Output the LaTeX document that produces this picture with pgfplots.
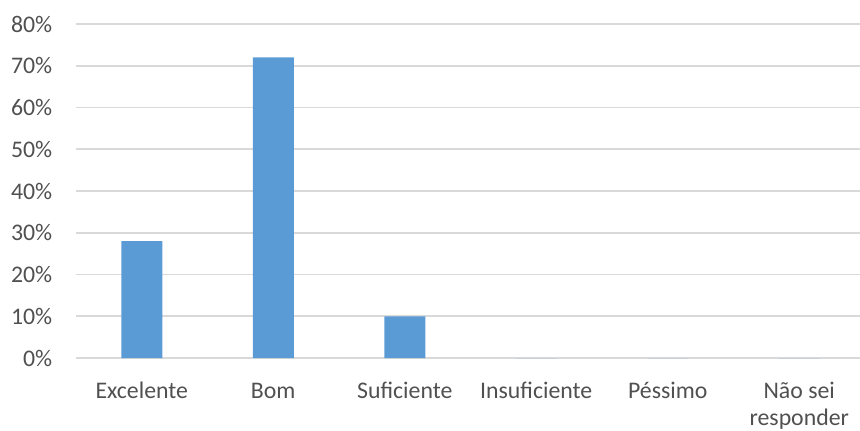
\documentclass[border=0pt]{standalone}
\usepackage{pgfplots}
\pgfplotsset{compat=1.18}
\usepackage{fontspec}
\setmainfont{Carlito}
\definecolor{barblue}{HTML}{5B9BD5}
\definecolor{gridgray}{HTML}{D9D9D9}
\definecolor{labelgray}{HTML}{505050}

\begin{document}
\begin{tikzpicture}
\begin{axis}[
    scale only axis,
    width=392pt, height=167pt,
    xmin=-0.5, xmax=5.462,
    ymin=0, ymax=80,
    axis line style={draw=none},
    major tick length=0pt,
    ymajorgrids,
    grid style={gridgray, line width=0.9pt},
    ytick={0,10,...,80},
    yticklabel={\pgfmathprintnumber{\tick}\%},
    xtick={0,1,2,3,4,5},
    xticklabels={Excelente,Bom,Suficiente,Insuficiente,Péssimo,{Não sei\\responder}},
    /pgf/number format/assume math mode=true,
    typeset ticklabels with strut,
    ticklabel style={font=\fontsize{11.9}{13.6}\selectfont, text=labelgray},
    yticklabel style={inner sep=0pt, xshift=-11.7pt},
    xticklabel style={inner sep=0pt, align=center, yshift=-10.5pt},
]
    \addplot[ybar, bar width=20.5pt, fill=barblue, draw=none]
        coordinates {
            (0,28)
            (1,72)
            (2,10)
            (3,0)
            (4,0)
            (5,0)
        };
\end{axis}
\pgfresetboundingbox
\path[use as bounding box] (-38pt,-36pt) rectangle (392pt,179pt);
\end{tikzpicture}
\end{document}
